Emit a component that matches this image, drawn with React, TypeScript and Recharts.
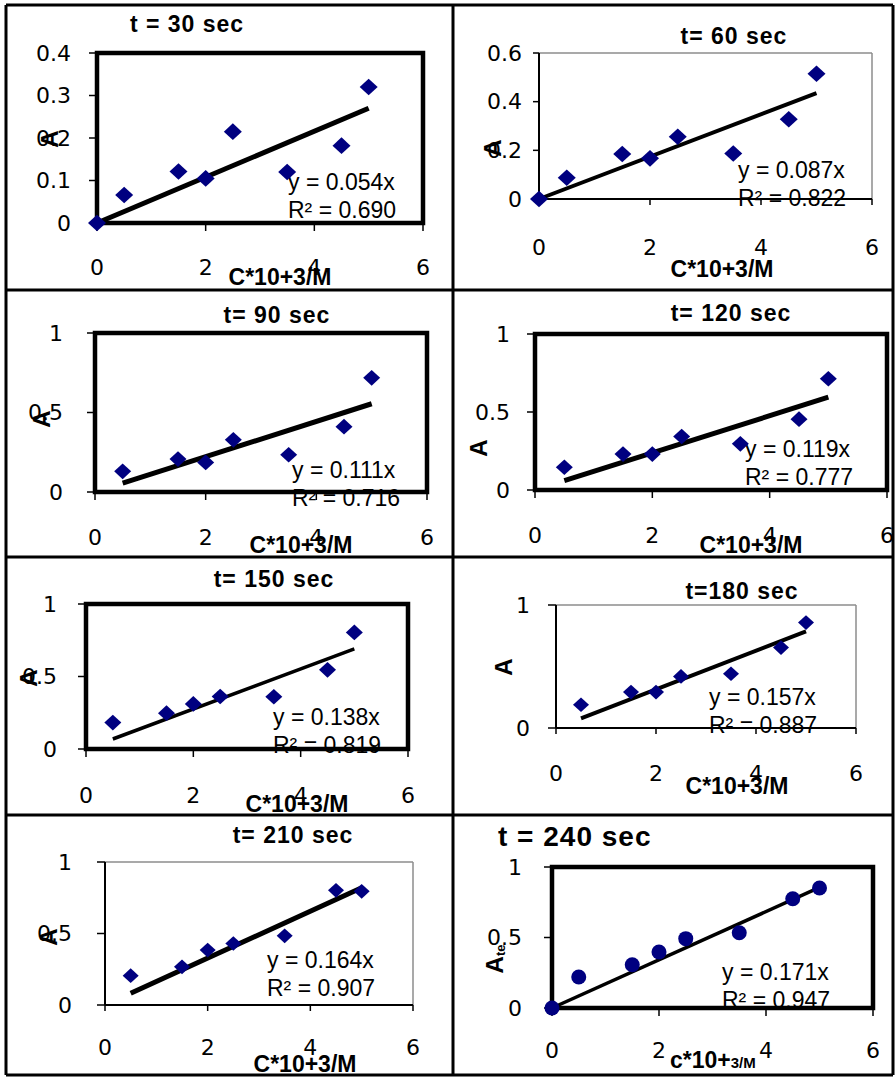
import { ScatterChart, Scatter, XAxis, YAxis, ReferenceArea, ReferenceLine } from 'recharts'

// concentration (C*10^3 / M)
const xWithZero = [0, 0.5, 1.5, 2, 2.5, 3.5, 4.5, 5]
const xNoZero = [0.5, 1.5, 2, 2.5, 3.5, 4.5, 5]

// absorbance A at each time
const a30 = [0, 0.066, 0.121, 0.105, 0.215, 0.12, 0.182, 0.32]
const a60 = [0, 0.087, 0.185, 0.167, 0.256, 0.187, 0.328, 0.515]
const a90 = [0.13, 0.207, 0.186, 0.328, 0.234, 0.411, 0.718]
const a120 = [0.146, 0.23, 0.23, 0.343, 0.296, 0.454, 0.713]
const a150 = [0.182, 0.247, 0.311, 0.362, 0.36, 0.546, 0.804]
const a180 = [0.189, 0.292, 0.292, 0.419, 0.441, 0.654, 0.857]
const a210 = [0.205, 0.267, 0.384, 0.43, 0.484, 0.802, 0.795]
const a240 = [0, 0.22, 0.307, 0.397, 0.492, 0.534, 0.775, 0.851]

const titles = ['t = 30 sec', 't= 60 sec', 't= 90 sec', 't= 120 sec', 't= 150 sec', 't=180 sec', 't= 210 sec', 't = 240 sec']
const slopes = ['0.054', '0.087', '0.111', '0.119', '0.138', '0.157', '0.164', '0.171']
const rSquared = ['0.690', '0.822', '0.716', '0.777', '0.819', '0.887', '0.907', '0.947']

// trend line end points (x from start to 5)
const trendX0 = [0, 0, 0.5, 0.5, 0.5, 0.5, 0.5, 0]
const trendY0 = [0, 0, 0.0555, 0.0595, 0.069, 0.0785, 0.082, 0]
const trendY1 = [0.27, 0.435, 0.555, 0.595, 0.69, 0.785, 0.82, 0.855]

const xTicks = [0, 2, 4, 6]
const yTicks30 = [0, 0.1, 0.2, 0.3, 0.4]
const yTicks60 = [0, 0.2, 0.4, 0.6]
const yTicksUnit = [0, 0.5, 1]
const yTicksEnds = [0, 1]

const NAVY = '#000080'
const AXIS_W = 40
const AXIS_H = 30

// layout per panel: cell [l, t, r, b], plot box [l, t, r, b], tick sizes
const panels = [
  { xs: xWithZero, ys: a30, yMax: 0.4, yTicks: yTicks30, cell: [6, 5, 453, 290], plot: [97, 53, 423, 223], yTick: [8, 18], xTick: [8, 28], thick: true, lw: 5, m: 9 },
  { xs: xWithZero, ys: a60, yMax: 0.6, yTicks: yTicks60, cell: [453, 5, 893, 290], plot: [539, 53, 872, 199], yTick: [6, 11], xTick: [6, 34], thick: false, lw: 4, m: 9 },
  { xs: xNoZero, ys: a90, yMax: 1, yTicks: yTicksUnit, cell: [6, 290, 453, 557], plot: [95, 333, 427, 492], yTick: [8, 24], xTick: [8, 29], thick: true, lw: 5, m: 8.5 },
  { xs: xNoZero, ys: a120, yMax: 1, yTicks: yTicksUnit, cell: [453, 290, 893, 557], plot: [535, 334, 887, 490], yTick: [8, 17], xTick: [8, 29], thick: true, lw: 5, m: 8.5 },
  { xs: xNoZero, ys: a150, yMax: 1, yTicks: yTicksUnit, cell: [6, 557, 453, 815], plot: [86, 604, 408, 749], yTick: [8, 21], xTick: [8, 30], thick: true, lw: 3.5, m: 8.5 },
  { xs: xNoZero, ys: a180, yMax: 1, yTicks: yTicksEnds, cell: [453, 557, 893, 815], plot: [556, 605, 856, 728], yTick: [8, 18], xTick: [6, 31], thick: false, lw: 4, m: 8 },
  { xs: xNoZero, ys: a210, yMax: 1, yTicks: yTicksUnit, cell: [6, 815, 453, 1075], plot: [105, 862, 413, 1005], yTick: [8, 25], xTick: [6, 28], thick: false, lw: 5, m: 8 },
  { xs: xWithZero, ys: a240, yMax: 1, yTicks: yTicksUnit, cell: [453, 815, 893, 1075], plot: [552, 867, 873, 1008], yTick: [8, 22], xTick: [8, 26], thick: true, lw: 3.5, m: 7.5, circle: true },
]

// text positions: title, equation, x title, y title
const titlePos = [[187, 32], [734, 44], [277, 323], [731, 321], [274, 587], [742, 599], [293, 843], [498, 846]]
const eqPos = [[288, 190], [738, 178], [292, 478], [745, 457], [273, 725], [709, 705], [267, 968], [722, 980]]
const xTitlePos = [[280, 285], [722, 277], [301, 553], [751, 553], [297, 812], [737, 794], [305, 1072], [670, 1068]]
const yTitlePos = [[49, 139], [492, 148], [41, 419], [478, 448], [28, 678], [503, 667], [48, 937], [494, 959]]

const tickStyle = { fontSize: 22, fill: '#000', fontFamily: 'DejaVu Sans, sans-serif' }
const SANS = 'Liberation Sans, Arial, sans-serif'

function makeDiamond(half: number) {
  return (props: any) => {
    const { cx, cy } = props
    if (cx == null || cy == null) return <g />
    const h = half * 0.92
    return <polygon points={`${cx},${cy - h} ${cx + half},${cy} ${cx},${cy + h} ${cx - half},${cy}`} fill={NAVY} />
  }
}

function makeCircle(r: number) {
  return (props: any) => {
    const { cx, cy } = props
    if (cx == null || cy == null) return <g />
    return <circle cx={cx} cy={cy} r={r} fill={NAVY} />
  }
}

function Panel({ p, i }: { p: any; i: number }) {
  const [cl, ct, cr, cb] = p.cell
  const [pl, pt, pr, pb] = p.plot
  const w = cr - cl
  const h = cb - ct
  const data = p.xs.map((x: number, k: number) => ({ x, y: p.ys[k] }))
  const axisLine = p.thick ? false : { stroke: '#000', strokeWidth: 2 }
  const tickLine = { stroke: '#000', strokeWidth: 1.5 }
  return (
    <div style={{ position: 'absolute', left: cl, top: ct, width: w, height: h, zIndex: 1 }}>
      <ScatterChart
        width={w}
        height={h}
        margin={{ left: pl - cl - AXIS_W, top: pt - ct, right: cr - pr, bottom: cb - pb - AXIS_H }}
      >
        <XAxis
          type="number"
          dataKey="x"
          domain={[0, 6]}
          ticks={xTicks}
          interval={0}
          height={AXIS_H}
          tickSize={p.xTick[0]}
          tickMargin={p.xTick[1]}
          axisLine={axisLine}
          tickLine={tickLine}
          tick={tickStyle}
        />
        <YAxis
          type="number"
          dataKey="y"
          domain={[0, p.yMax]}
          ticks={p.yTicks}
          interval={0}
          width={AXIS_W}
          tickSize={p.yTick[0]}
          tickMargin={p.yTick[1]}
          axisLine={axisLine}
          tickLine={tickLine}
          tick={tickStyle}
        />
        {p.thick ? (
          <ReferenceArea x1={0} x2={6} y1={0} y2={p.yMax} fill="none" stroke="#000" strokeWidth={4.5} />
        ) : null}
        {!p.thick ? <ReferenceLine y={p.yMax} stroke="#8c8c8c" strokeWidth={1.5} /> : null}
        {!p.thick ? <ReferenceLine x={6} stroke="#8c8c8c" strokeWidth={1.5} /> : null}
        <ReferenceLine
          segment={[{ x: trendX0[i], y: trendY0[i] }, { x: 5, y: trendY1[i] }]}
          stroke="#000"
          strokeWidth={p.lw}
        />
        <Scatter
          data={data}
          fill={NAVY}
          shape={p.circle ? makeCircle(p.m) : makeDiamond(p.m)}
          isAnimationActive={false}
        />
      </ScatterChart>
    </div>
  )
}

function Overlay() {
  return (
    <svg width={895} height={1077} style={{ position: 'absolute', left: 0, top: 0, zIndex: 0 }}>
      {/* table grid */}
      <g stroke="#000" strokeWidth={3}>
        <line x1={6} y1={5} x2={893} y2={5} />
        <line x1={6} y1={290} x2={893} y2={290} />
        <line x1={6} y1={557} x2={893} y2={557} />
        <line x1={6} y1={815} x2={893} y2={815} />
        <line x1={6} y1={1075} x2={893} y2={1075} />
        <line x1={6} y1={5} x2={6} y2={1075} />
        <line x1={453} y1={5} x2={453} y2={1075} />
        <line x1={893} y1={5} x2={893} y2={1075} />
      </g>
      {titles.map((t, i) => (
        <text
          key={'t' + i}
          x={titlePos[i][0]}
          y={titlePos[i][1]}
          textAnchor={i === 7 ? 'start' : 'middle'}
          fontFamily={SANS}
          fontWeight="bold"
          fontSize={i === 7 ? 28 : 23}
          letterSpacing={1}
        >
          {t}
        </text>
      ))}
      {slopes.map((s, i) => (
        <g key={'e' + i} fontFamily={SANS} fontSize={23}>
          <text x={eqPos[i][0]} y={eqPos[i][1]}>{`y = ${s}x`}</text>
          <text x={eqPos[i][0]} y={eqPos[i][1] + 28}>{`R² = ${rSquared[i]}`}</text>
        </g>
      ))}
      {xTitlePos.map((pos, i) =>
        i === 7 ? (
          <text key={'x' + i} x={pos[0]} y={pos[1]} fontFamily={SANS} fontWeight="bold" fontSize={23}>
            c*10+<tspan fontSize={15}>3/M</tspan>
          </text>
        ) : (
          <text key={'x' + i} x={pos[0]} y={pos[1]} textAnchor="middle" fontFamily={SANS} fontWeight="bold" fontSize={23}>
            C*10+3/M
          </text>
        ),
      )}
      {yTitlePos.map((pos, i) => (
        <text
          key={'y' + i}
          x={pos[0]}
          y={pos[1]}
          transform={`rotate(-90 ${pos[0]} ${pos[1]})`}
          textAnchor="middle"
          dominantBaseline="central"
          fontFamily={SANS}
          fontWeight="bold"
          fontSize={24}
        >
          A{i === 7 ? <tspan fontSize={13} dy={6}>te</tspan> : null}
        </text>
      ))}
    </svg>
  )
}

export default function App() {
  return (
    <div style={{ position: 'absolute', left: 0, top: 0, width: 895, height: 1077, background: '#fff' }}>
      <Overlay />
      {panels.map((p, i) => (
        <Panel key={i} p={p} i={i} />
      ))}
    </div>
  )
}
